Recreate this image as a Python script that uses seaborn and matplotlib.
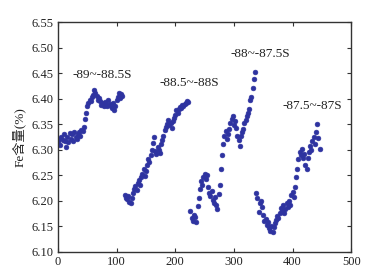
import matplotlib
matplotlib.use("Agg")
import matplotlib.pyplot as plt
import seaborn as sns
import pandas as pd

# Segment 1: -89~-88.5S
x1 = list(range(0, 112, 2))
y1 = [6.316, 6.322, 6.310, 6.325, 6.320, 6.330, 6.318, 6.305, 6.326, 6.315,
      6.332, 6.322, 6.330, 6.318, 6.334, 6.326, 6.322, 6.330, 6.334, 6.328,
      6.338, 6.336, 6.345, 6.360, 6.372, 6.385, 6.392, 6.398, 6.396, 6.404,
      6.408, 6.418, 6.412, 6.406, 6.398, 6.402, 6.396, 6.388, 6.392, 6.386,
      6.394, 6.390, 6.385, 6.398, 6.390, 6.386, 6.382, 6.392, 6.378, 6.386,
      6.398, 6.404, 6.412, 6.402, 6.410, 6.406]
# Segment 2: -88.5~-88S
x2 = list(range(114, 224, 2))
y2 = [6.212, 6.206, 6.203, 6.210, 6.198, 6.196, 6.205, 6.215, 6.224, 6.230,
      6.222, 6.236, 6.240, 6.232, 6.246, 6.252, 6.262, 6.248, 6.258, 6.270,
      6.282, 6.276, 6.290, 6.300, 6.314, 6.326, 6.298, 6.292, 6.306, 6.300,
      6.294, 6.312, 6.320, 6.328, 6.338, 6.345, 6.350, 6.358, 6.348, 6.352,
      6.342, 6.356, 6.362, 6.368, 6.378, 6.372, 6.380, 6.384, 6.382, 6.388,
      6.386, 6.390, 6.392, 6.396, 6.394]
# Segment 3: -88~-87.5S
x3 = list(range(226, 338, 2))
y3 = [6.180, 6.166, 6.160, 6.172, 6.168, 6.158, 6.190, 6.205, 6.224, 6.238,
      6.232, 6.246, 6.252, 6.242, 6.250, 6.228, 6.215, 6.210, 6.220, 6.202,
      6.196, 6.208, 6.192, 6.185, 6.214, 6.232, 6.262, 6.290, 6.312, 6.328,
      6.336, 6.322, 6.330, 6.340, 6.352, 6.360, 6.366, 6.348, 6.356, 6.342,
      6.328, 6.320, 6.308, 6.328, 6.334, 6.340, 6.352, 6.358, 6.366, 6.372,
      6.380, 6.398, 6.404, 6.420, 6.438, 6.452]
# Segment 4: -87.5~-87S
x4 = list(range(338, 448, 2))
y4 = [6.215, 6.205, 6.178, 6.196, 6.200, 6.188, 6.172, 6.160, 6.164, 6.152,
      6.158, 6.146, 6.142, 6.150, 6.140, 6.148, 6.156, 6.162, 6.170, 6.166,
      6.176, 6.186, 6.180, 6.192, 6.176, 6.184, 6.196, 6.188, 6.200, 6.192,
      6.212, 6.218, 6.208, 6.228, 6.246, 6.262, 6.282, 6.296, 6.290, 6.302,
      6.284, 6.292, 6.270, 6.262, 6.284, 6.296, 6.308, 6.300, 6.318, 6.326,
      6.312, 6.334, 6.350, 6.324, 6.302]

labels = ["-89~-88.5S", "-88.5~-88S", "-88~-87.5S", "-87.5~-87S"]
label_x = [76, 224, 345, 433]
label_y = [6.446, 6.430, 6.487, 6.386]

xticks = [0, 100, 200, 300, 400, 500]
yticks = [6.10, 6.15, 6.20, 6.25, 6.30, 6.35, 6.40, 6.45, 6.50, 6.55]

df = pd.DataFrame({"x": x1 + x2 + x3 + x4, "y": y1 + y2 + y3 + y4})

sns.set_theme(style="ticks")
plt.rcParams['font.family'] = ['Liberation Serif', 'Noto Sans CJK SC']

fig = plt.figure(figsize=(3.76, 2.76), dpi=100)
ax = fig.add_axes([0.154, 0.087, 0.780, 0.833])

sns.scatterplot(data=df, x="x", y="y", ax=ax, color="#2e33a0",
                s=12, edgecolor="#2e33a0", linewidth=0.4, legend=False)

for t, tx, ty in zip(labels, label_x, label_y):
    ax.text(tx, ty, t, ha="center", va="center", fontsize=9.5, color="#222222")

ax.set_xlim(0, 500)
ax.set_ylim(6.10, 6.55)
ax.set_xticks(xticks)
ax.set_yticks(yticks)
ax.set_yticklabels([f"{v:.2f}" for v in yticks])
ax.tick_params(direction="in", length=3, width=0.8, labelsize=9,
               top=True, right=True, colors="#333333", labelcolor="#222222", pad=3)
for sp in ax.spines.values():
    sp.set_linewidth(1.0)
    sp.set_color("#333333")
ax.set_xlabel("")
ax.set_ylabel("Fe含量(%)", fontsize=9.5, color="#222222", labelpad=4)

fig.savefig("out.png", dpi=100)
